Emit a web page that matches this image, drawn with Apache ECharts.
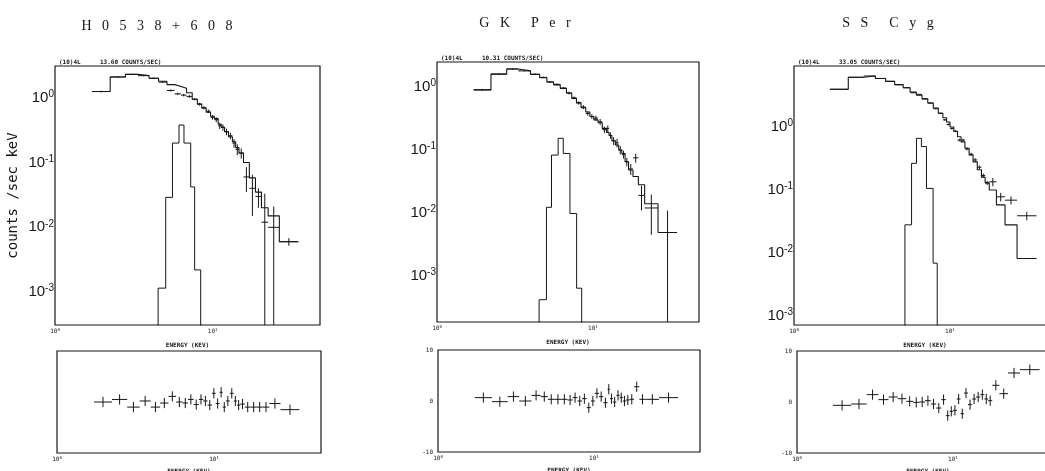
<!DOCTYPE html>
<html>
<head>
<meta charset="utf-8">
<script src="https://cdn.jsdelivr.net/npm/echarts@6/dist/echarts.min.js"></script>
<style>
html,body{margin:0;padding:0;background:#fff;}
#chart{width:1045px;height:471px;}
</style>
</head>
<body>
<div id="chart"></div>
<script>
// values (energy in keV, counts /sec keV)

// H0538+608
var h0538Edges = [1.72, 2.24, 2.8, 3.36, 3.95, 4.54, 5.13, 5.74, 6.3, 6.83, 7.42, 8.0, 8.53, 9.1, 9.7, 10.25, 10.85, 11.35, 11.9, 12.6, 13.35, 14.0, 14.7, 15.7, 17.1, 18.7, 20.4, 22.5, 26.5, 35];
var h0538Model = [1.25, 2.1, 2.3, 2.2, 2.0, 1.8, 1.6, 1.5, 1.4, 1.2, 0.95, 0.8, 0.7, 0.6, 0.52, 0.48, 0.39, 0.35, 0.3, 0.25, 0.21, 0.17, 0.14, 0.1, 0.058, 0.035, 0.02, 0.015, 0.006];
var h0538Obs = [1.25, 2.1, 2.3, 2.2, 2.0, 1.75, 1.3, 1.15, 1.1, 1.05, 0.95, 0.8, 0.7, 0.62, 0.5, 0.46, 0.37, 0.35, 0.3, 0.26, 0.2, 0.16, 0.14, 0.06, 0.04, 0.03, 0.012, 0.01, 0.006];
var h0538Err = [0.04, 0.05, 0.05, 0.05, 0.05, 0.05, 0.05, 0.05, 0.05, 0.05, 0.04, 0.04, 0.04, 0.04, 0.04, 0.04, 0.04, 0.04, 0.035, 0.03, 0.03, 0.03, 0.025, 0.025, 0.025, 0.01, 0.021, 0.011, 0.0008];
var h0538Res = [0, 0.5, -1, 0.2, -1, -0.2, 1.1, 0, -0.2, 0.5, -0.5, 0.5, 0.2, -0.6, 1.7, -0.3, 1.9, -1, 0.2, 1.7, 0.2, -0.6, -0.4, -1, -1, -1, -1, -0.3, -1.5];
var h0538LineEdges = [4.51, 5.04, 5.56, 6.12, 6.58, 7.26, 7.69, 8.4];
var h0538LineVals = [0.00115, 0.029, 0.2, 0.38, 0.2, 0.042, 0.0022];

// GK Per
var gkperEdges = [1.72, 2.22, 2.8, 3.32, 3.98, 4.56, 5.07, 5.6, 6.18, 6.77, 7.32, 7.85, 8.4, 9.0, 9.57, 10.15, 10.8, 11.5, 12.25, 12.7, 13.25, 13.95, 14.65, 15.35, 16.1, 16.95, 18.1, 19.6, 21.5, 26.2, 34.7];
var gkperModel = [0.9, 1.6, 1.93, 1.8, 1.58, 1.4, 1.2, 1.08, 0.95, 0.8, 0.66, 0.56, 0.47, 0.4, 0.34, 0.3, 0.27, 0.22, 0.19, 0.17, 0.14, 0.12, 0.1, 0.088, 0.065, 0.048, 0.038, 0.028, 0.014, 0.0049];
var gkperObs = [0.9, 1.6, 1.93, 1.8, 1.6, 1.42, 1.2, 1.1, 0.96, 0.8, 0.67, 0.56, 0.48, 0.38, 0.34, 0.32, 0.28, 0.21, 0.22, 0.17, 0.14, 0.13, 0.1, 0.085, 0.065, 0.05, 0.075, 0.019, 0.012, 0.0049];
var gkperErr = [0.03, 0.04, 0.04, 0.04, 0.04, 0.04, 0.04, 0.04, 0.04, 0.04, 0.035, 0.035, 0.035, 0.03, 0.03, 0.03, 0.03, 0.025, 0.025, 0.02, 0.02, 0.02, 0.015, 0.012, 0.01, 0.01, 0.012, 0.008, 0.0075, 0.006];
var gkperRes = [0.66, -0.13, 0.86, 0, 1.1, 0.86, 0.33, 0.33, 0.33, 0.2, 0.66, 0, 0.46, -1.3, 0, 1.5, 0.86, -0.33, 2.3, 0.46, -0.2, 1.1, 0.66, 0, 0.2, 0.33, 2.8, 0.33, 0.33, 0.66];
var gkperLineEdges = [4.52, 5.04, 5.43, 5.99, 6.46, 7.13, 7.87, 8.48];
var gkperLineVals = [0.00042, 0.0123, 0.083, 0.153, 0.088, 0.0098, 0.00064];

// SS Cyg
var sscygEdges = [1.7, 2.23, 2.8, 3.33, 3.87, 4.43, 5.02, 5.56, 6.1, 6.63, 7.22, 7.83, 8.43, 9.02, 9.53, 10.03, 10.6, 11.2, 11.8, 12.5, 13.3, 14.1, 15.0, 15.95, 16.85, 17.9, 19.9, 22.6, 27.0, 36];
var sscygModel = [3.97, 6.15, 6.45, 5.9, 5.3, 4.7, 4.2, 3.6, 3.2, 2.8, 2.4, 2.0, 1.65, 1.4, 1.2, 1.0, 0.85, 0.7, 0.58, 0.46, 0.36, 0.28, 0.21, 0.16, 0.13, 0.1, 0.058, 0.028, 0.0082];
var sscygObs = [3.97, 6.15, 6.45, 5.9, 5.3, 4.7, 4.2, 3.5, 3.3, 2.8, 2.4, 1.95, 1.65, 1.3, 1.1, 0.95, 0.86, 0.62, 0.62, 0.45, 0.37, 0.3, 0.23, 0.17, 0.13, 0.135, 0.078, 0.069, 0.039];
var sscygErr = [0.05, 0.07, 0.07, 0.07, 0.06, 0.06, 0.06, 0.06, 0.05, 0.05, 0.05, 0.04, 0.04, 0.04, 0.04, 0.035, 0.035, 0.03, 0.03, 0.025, 0.02, 0.02, 0.015, 0.012, 0.01, 0.02, 0.012, 0.01, 0.006];
var sscygRes = [-0.65, -0.39, 1.44, 0.46, 0.98, 0.65, 0.13, -0.07, 0, 0.26, -0.39, -1.18, 0.46, -2.68, -1.83, -1.63, 0.59, -2.29, 1.76, -0.52, 0.59, 0.98, 1.44, 0.59, 0.26, 3.27, 1.63, 5.69, 6.34];
var sscygLineEdges = [5.15, 5.68, 6.11, 6.57, 7.08, 7.81, 8.3];
var sscygLineVals = [0.028, 0.265, 0.66, 0.49, 0.106, 0.0069];

var sourceNames = ['H   0   5   3   8   +   6   0   8', 'G   K      P   e   r', 'S   S      C   y   g'];
var countRates = ['13.60 COUNTS/SEC)', '10.31 COUNTS/SEC)', '33.05 COUNTS/SEC)'];
var topYLimits = [[3.1e-4, 3.1], [1.86e-4, 2.49], [7.2e-4, 9.3]];
var resLimits = [-10, 10];
var energyLimits = [1, 48];

var FLOOR = 1e-6;
var INK = '#161616';

// histogram -> points for a step line
function steps(edges, vals, dropStart, dropEnd) {
	var pts = [];
	if (dropStart) pts.push([edges[0], FLOOR]);
	for (var i = 0; i < vals.length; i++) pts.push([edges[i], vals[i]]);
	pts.push([edges[vals.length], vals[vals.length - 1]]);
	if (dropEnd) pts.push([edges[vals.length], FLOOR]);
	return pts;
}

// [centre, lowEdge, highEdge, y, yLow, yHigh]
function crosses(edges, y, err) {
	return y.map(function(v, i){
		var e = (typeof err === 'number') ? err : err[i];
		var lo = v - e;
		if (typeof err !== 'number' && lo <= 0) lo = FLOOR;
		return [Math.sqrt(edges[i] * edges[i + 1]), edges[i], edges[i + 1], v, lo, v + e];
	});
}

function drawCross(params, api) {
	var cs = params.coordSys;
	var x0 = cs.x, x1 = cs.x + cs.width, y0 = cs.y, y1 = cs.y + cs.height;
	function cl(v, a, b){ return Math.max(a, Math.min(b, v)); }
	var l = api.coord([api.value(1), api.value(3)]);
	var r = api.coord([api.value(2), api.value(3)]);
	var t = api.coord([api.value(0), api.value(5)]);
	var b = api.coord([api.value(0), api.value(4)]);
	var st = {stroke: INK, lineWidth: 1};
	return {
		type: 'group',
		children: [
			{type: 'line', shape: {x1: cl(l[0], x0, x1), y1: l[1], x2: cl(r[0], x0, x1), y2: r[1]}, style: st},
			{type: 'line', shape: {x1: t[0], y1: cl(t[1], y0, y1), x2: b[0], y2: cl(b[1], y0, y1)}, style: st}
		]
	};
}

function powLabel(v){
	var lg = Math.log(v) / Math.LN10;
	var e = Math.round(lg);
	if (Math.abs(lg - e) > 1e-6) return '';
	return '10{s|' + e + '}';
}

var panels = [
	{edges: h0538Edges, model: h0538Model, obs: h0538Obs, err: h0538Err, res: h0538Res, le: h0538LineEdges, lv: h0538LineVals},
	{edges: gkperEdges, model: gkperModel, obs: gkperObs, err: gkperErr, res: gkperRes, le: gkperLineEdges, lv: gkperLineVals},
	{edges: sscygEdges, model: sscygModel, obs: sscygObs, err: sscygErr, res: sscygRes, le: sscygLineEdges, lv: sscygLineVals}
];

var topBoxes = [
	{left: 55, top: 66, width: 265, height: 259},
	{left: 437, top: 62, width: 262, height: 260},
	{left: 794, top: 66, width: 262, height: 259}
];
var resBoxes = [
	{left: 57, top: 351, width: 264, height: 102},
	{left: 438, top: 350, width: 262, height: 102},
	{left: 797, top: 351, width: 262, height: 102}
];

var grids = [], xAxes = [], yAxes = [], series = [], graphics = [];
var mono = '"DejaVu Sans Mono", monospace';

topBoxes.concat(resBoxes).forEach(function(b){
	grids.push({
		left: b.left, top: b.top, width: b.width, height: b.height,
		show: true, borderColor: INK, borderWidth: 1.2,
		outerBoundsMode: 'none', containLabel: false
	});
});

for (var i = 0; i < 6; i++) {
	var isTop = i < 3;
	xAxes.push({
		type: 'log', logBase: 10, gridIndex: i,
		min: energyLimits[0], max: energyLimits[1],
		axisLine: {show: false}, axisTick: {show: false}, splitLine: {show: false},
		axisLabel: {
			formatter: powLabel, fontSize: 6, margin: 3, color: INK, fontFamily: mono,
			rich: {s: {fontSize: 4, verticalAlign: 'top', lineHeight: 5, color: INK}}
		},
		name: 'ENERGY (KEV)', nameLocation: 'middle', nameGap: isTop ? 17 : 15,
		nameTextStyle: {fontSize: 6, fontWeight: 'bold', fontFamily: mono, color: INK}
	});
	if (isTop) {
		yAxes.push({
			type: 'log', logBase: 10, gridIndex: i,
			min: topYLimits[i][0], max: topYLimits[i][1],
			axisLine: {show: false}, axisTick: {show: false}, splitLine: {show: false},
			axisLabel: {
				formatter: powLabel, fontSize: 15, margin: 1, color: INK,
				fontFamily: '"Liberation Sans", Arial, sans-serif', lineHeight: 17,
				rich: {s: {fontSize: 10, verticalAlign: 'top', lineHeight: 10, color: INK, fontFamily: '"Liberation Sans", Arial, sans-serif'}}
			},
			name: i === 0 ? 'counts /sec keV' : '', nameLocation: 'middle', nameGap: 35, nameRotate: 90,
			nameTextStyle: {fontSize: 14, fontFamily: mono, color: INK}
		});
	} else {
		yAxes.push({
			type: 'value', gridIndex: i,
			min: resLimits[0], max: resLimits[1], interval: 10,
			axisLine: {show: false}, axisTick: {show: false}, splitLine: {show: false},
			axisLabel: {show: i > 3, fontSize: 6, margin: 5, color: INK, fontFamily: mono}
		});
	}
}

panels.forEach(function(p, k){
	series.push({
		type: 'line', xAxisIndex: k, yAxisIndex: k, step: 'end', symbol: 'none',
		data: steps(p.edges, p.model, false, false),
		lineStyle: {color: INK, width: 1.1}, silent: true, clip: true
	});
	series.push({
		type: 'line', xAxisIndex: k, yAxisIndex: k, step: 'end', symbol: 'none',
		data: steps(p.le, p.lv, true, true),
		lineStyle: {color: INK, width: 1}, silent: true, clip: true
	});
	series.push({
		type: 'custom', xAxisIndex: k, yAxisIndex: k, renderItem: drawCross,
		data: crosses(p.edges, p.obs, p.err), encode: {x: 0, y: 3}, silent: true
	});
	series.push({
		type: 'custom', xAxisIndex: k + 3, yAxisIndex: k + 3, renderItem: drawCross,
		data: crosses(p.edges, p.res, 1), encode: {x: 0, y: 3}, silent: true
	});
});

// source names and header lines
var titlePos = [[157, 26], [525, 23], [888, 23]];
titlePos.forEach(function(tp, k){
	graphics.push({
		type: 'text', x: tp[0], y: tp[1],
		style: {text: sourceNames[k], fill: INK, font: '14px "Liberation Serif", serif', align: 'center', verticalAlign: 'middle'}
	});
	var b = topBoxes[k];
	graphics.push({
		type: 'text', x: b.left + 4, y: b.top - 1,
		style: {text: '(10)4L', fill: INK, font: 'bold 6px ' + mono, align: 'left', verticalAlign: 'bottom'}
	});
	graphics.push({
		type: 'text', x: b.left + 45, y: b.top - 1,
		style: {text: countRates[k], fill: INK, font: 'bold 6px ' + mono, align: 'left', verticalAlign: 'bottom'}
	});
});

var chart = echarts.init(document.getElementById('chart'), null, {renderer: 'canvas'});
chart.setOption({
	animation: false,
	backgroundColor: '#fff',
	grid: grids,
	xAxis: xAxes,
	yAxis: yAxes,
	series: series,
	graphic: graphics
});
</script>
</body>
</html>
